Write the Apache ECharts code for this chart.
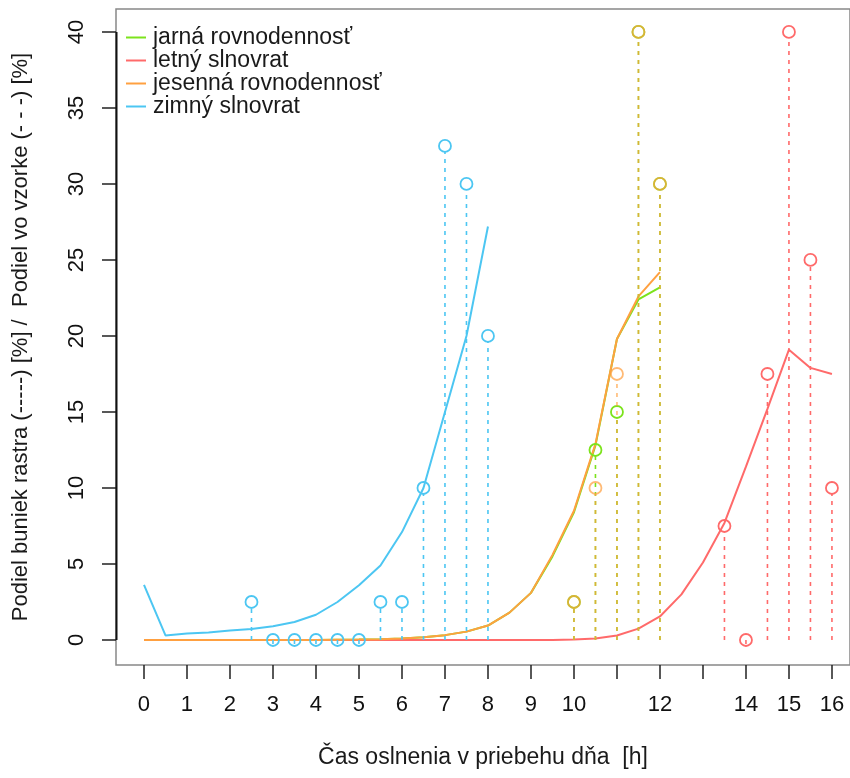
<!DOCTYPE html>
<html>
<head>
<meta charset="utf-8">
<script src="https://cdn.jsdelivr.net/npm/echarts@6/dist/echarts.min.js"></script>
<style>
html,body{margin:0;padding:0;background:#fff;}
#chart{width:850px;height:778px;}
</style>
</head>
<body>
<div id="chart"></div>
<script>
// ---- data ----
const seriesNames = ['jarná rovnodennosť', 'letný slnovrat', 'jesenná rovnodennosť', 'zimný slnovrat'];

const hoursWinter = [0,0.5,1,1.5,2,2.5,3,3.5,4,4.5,5,5.5,6,6.5,7,7.5,8];
const winterLine  = [3.63,0.30,0.42,0.50,0.62,0.73,0.90,1.18,1.66,2.5,3.6,4.9,7.1,10.0,15.0,20.0,27.2];

const hoursEquinox = [0,0.5,1,1.5,2,2.5,3,3.5,4,4.5,5,5.5,6,6.5,7,7.5,8,8.5,9,9.5,10,10.5,11,11.5,12];
const springLine   = [0,0,0,0,0,0,0,0,0,0.02,0.03,0.05,0.1,0.18,0.32,0.55,0.95,1.8,3.1,5.5,8.4,12.8,19.8,22.4,23.2];
const autumnLine   = [0,0,0,0,0,0,0,0,0,0.02,0.03,0.05,0.1,0.18,0.32,0.55,0.95,1.8,3.1,5.6,8.5,12.9,19.8,22.6,24.2];

const hoursSummer = [0,0.5,1,1.5,2,2.5,3,3.5,4,4.5,5,5.5,6,6.5,7,7.5,8,8.5,9,9.5,10,10.5,11,11.5,12,12.5,13,13.5,14,14.5,15,15.5,16];
const summerLine  = [0,0,0,0,0,0,0,0,0,0,0,0,0,0,0,0,0,0,0,0,0.03,0.1,0.3,0.75,1.55,3.0,5.1,7.7,11.4,15.2,19.1,17.9,17.5];

const winterX  = [2.5,3,3.5,4,4.5,5,5.5,6,6.5,7,7.5,8];
const winterPts = [2.5,0,0,0,0,0,2.5,2.5,10,32.5,30,20];
const springX  = [10,10.5,11,11.5,12];
const springPts = [2.5,12.5,15,40,30];
const autumnX  = [10,10.5,11,11.5,12];
const autumnPts = [2.5,10,17.5,40,30];
const summerX  = [13.5,14,14.5,15,15.5,16];
const summerPts = [7.5,0,17.5,40,25,10];

const xTicks  = [0,1,2,3,4,5,6,7,8,9,10,11,12,13,14,15,16];
const xLabels = [0,1,2,3,4,5,6,7,8,9,10,12,14,15,16];
const yTicks  = [0,5,10,15,20,25,30,35,40];

const xTitle = 'Čas oslnenia v priebehu dňa  [h]';
const yTitle = 'Podiel buniek rastra (-----) [%] /  Podiel vo vzorke (- - -) [%]';

// ---- styles ----
const colors = {
  spring: '#7ce31c',
  summer: '#ff6a6a',
  autumn: '#ffa040',
  winter: '#4cc6f2'
};
const FONT = '"Liberation Sans", Arial, sans-serif';
const X_MIN = -0.651, X_MAX = 16.42, Y_MIN = -1.645, Y_MAX = 41.51;

function pairs(xs, ys){ return xs.map((x,i)=>[x, ys[i]]); }

function lineSeries(name, xs, ys, color, z){
  return {
    name: name, type: 'line', data: pairs(xs, ys), showSymbol: false, symbol: 'none',
    lineStyle: {color: color, width: 2}, itemStyle: {color: color}, z: z, animation: false
  };
}
function pointSeries(id, xs, ys, color, opacity, z){
  return {
    id: id, name: id, type: 'custom', data: pairs(xs, ys), z: z, animation: false, silent: true,
    renderItem: function(params, api){
      const x = api.value(0), v = api.value(1);
      const p0 = api.coord([x, 0]);
      const p1 = api.coord([x, v]);
      return {
        type: 'group',
        children: [
          {type: 'line', shape: {x1: p0[0], y1: p0[1], x2: p1[0], y2: p1[1] + 6},
           style: {stroke: color, lineWidth: 1.6, lineDash: [4, 5], opacity: opacity}},
          {type: 'circle', shape: {cx: p1[0], cy: p1[1], r: 6},
           style: {fill: 'none', stroke: color, lineWidth: 1.8, opacity: opacity}}
        ]
      };
    }
  };
}

// y axis line drawn only over the tick range (R style)
const yAxisLineSeries = {
  id: 'y-axis-line', type: 'custom', silent: true, animation: false, z: 10, clip: false,
  data: [[yTicks[0], yTicks[yTicks.length - 1]]],
  renderItem: function(params, api){
    const a = api.coord([X_MIN, api.value(0)]);
    const b = api.coord([X_MIN, api.value(1)]);
    return {type: 'line', shape: {x1: a[0] + 0.5, y1: a[1], x2: b[0] + 0.5, y2: b[1]},
            style: {stroke: '#111', lineWidth: 2}};
  }
};

const chart = echarts.init(document.getElementById('chart'), null, {renderer: 'canvas'});

chart.setOption({
  backgroundColor: '#fff',
  animation: false,
  textStyle: {fontFamily: FONT},
  grid: {left: 116, top: 9, right: 0, bottom: 113, show: true, borderColor: '#888', borderWidth: 1.5, backgroundColor: 'transparent'},
  legend: {
    data: seriesNames, orient: 'vertical', left: 121, top: 21,
    icon: 'rect', itemWidth: 20, itemHeight: 2, itemGap: 0,
    textStyle: {fontSize: 23, color: '#1a1a1a', fontFamily: FONT, lineHeight: 21, padding: [0,0,0,2]}
  },
  xAxis: {
    type: 'value', min: X_MIN, max: X_MAX,
    name: xTitle, nameLocation: 'middle', nameGap: 81,
    nameTextStyle: {fontSize: 23, color: '#1a1a1a', fontFamily: FONT},
    axisLine: {show: false, onZero: false},
    axisTick: {show: true, customValues: xTicks, length: 14, lineStyle: {color: '#222', width: 1.5}},
    axisLabel: {customValues: xLabels, fontSize: 22, color: '#111', margin: 29, fontFamily: FONT},
    splitLine: {show: false}
  },
  yAxis: {
    type: 'value', min: Y_MIN, max: Y_MAX,
    name: yTitle, nameLocation: 'middle', nameGap: 84,
    nameTextStyle: {fontSize: 22, color: '#1a1a1a', fontFamily: FONT},
    axisLine: {show: false, onZero: false},
    axisTick: {show: true, customValues: yTicks, length: 14, lineStyle: {color: '#222', width: 1.5}},
    axisLabel: {customValues: yTicks, rotate: 90, fontSize: 22, color: '#111', margin: 28, fontFamily: FONT},
    splitLine: {show: false}
  },
  series: [
    lineSeries(seriesNames[0], hoursEquinox, springLine, colors.spring, 2),
    lineSeries(seriesNames[1], hoursSummer, summerLine, colors.summer, 2),
    lineSeries(seriesNames[2], hoursEquinox, autumnLine, colors.autumn, 2),
    lineSeries(seriesNames[3], hoursWinter, winterLine, colors.winter, 2),
    pointSeries('pts-spring', springX, springPts, colors.spring, 1, 3),
    pointSeries('pts-summer', summerX, summerPts, colors.summer, 1, 3),
    pointSeries('pts-autumn', autumnX, autumnPts, colors.autumn, 0.72, 3),
    pointSeries('pts-winter', winterX, winterPts, colors.winter, 1, 3),
    yAxisLineSeries
  ]
});
</script>
</body>
</html>
